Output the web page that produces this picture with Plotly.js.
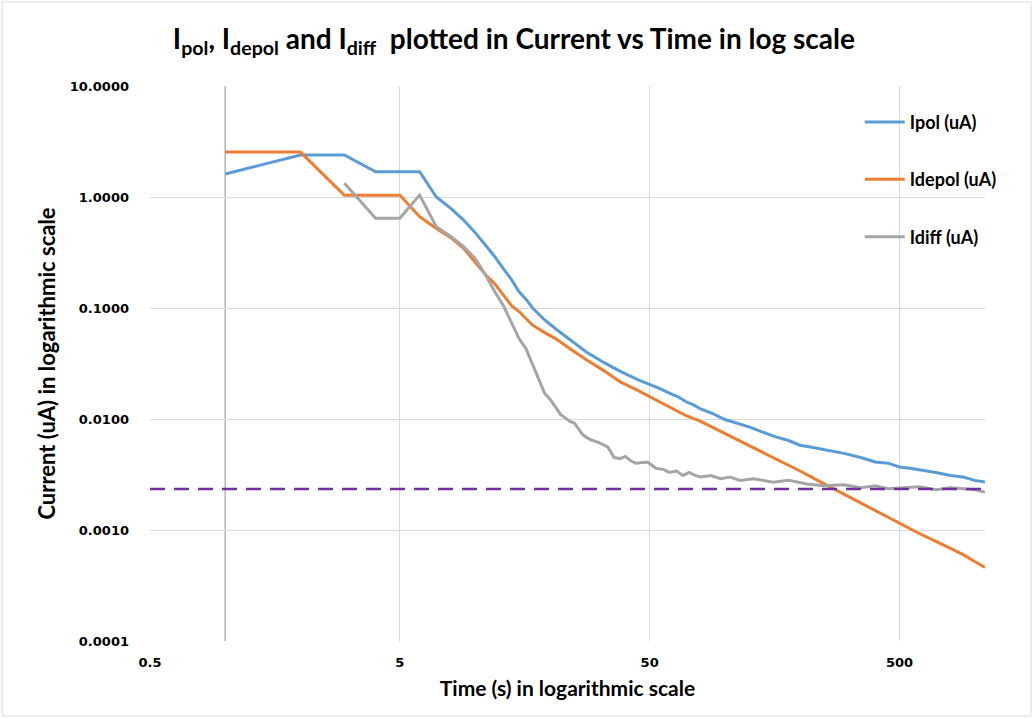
<!DOCTYPE html>
<html>
<head>
<meta charset="utf-8">
<script src="https://cdn.plot.ly/plotly-3.0.1.min.js"></script>
<style>
html,body{margin:0;padding:0;background:#fff;}
#chart{width:1034px;height:719px;}
</style>
</head>
<body>
<div id="chart"></div>
<script>
// ---- data ----
const timePol = [1,2,3,4,5,6,7,8,9,10,11,12,13,14,15,16,17,19,21,24,28,33,38,45,50,55,60,65,70,75,80,90,100,110,125,140,160,180,200,220,250,275,300,350,400,450,500,550,600,700,800,900,1000,1100];
const ipol    = [1.61,2.39,2.39,1.69,1.69,1.69,1.0,0.79,0.62,0.48,0.37,0.29,0.225,0.18,0.14,0.12,0.1,0.078,0.065,0.052,0.04,0.032,0.027,0.0225,0.0205,0.0188,0.0171,0.0158,0.0143,0.0134,0.0123,0.0111,0.0099,0.0093,0.0085,0.0077,0.0069,0.0064,0.0058,0.0056,0.0053,0.0051,0.0049,0.0045,0.0041,0.0040,0.0037,0.0036,0.0035,0.0033,0.0031,0.0030,0.0028,0.0027];

const timeDepol = [1,2,3,4,5,6,7,8,9,10,11,12,13,14,15,16,17,19,21,24,28,33,38,45,50,60,70,80,100,120,140,170,200,250,300,400,500,600,700,800,900,1000,1100];
const idepol    = [2.54,2.54,1.035,1.035,1.035,0.665,0.52,0.43,0.345,0.26,0.2,0.165,0.13,0.105,0.093,0.08,0.07,0.06,0.053,0.043,0.034,0.027,0.0217,0.018,0.0159,0.0128,0.0107,0.0095,0.0074,0.006,0.0051,0.0041,0.0034,0.0026,0.0021,0.00152,0.00115,0.00093,0.00079,0.00068,0.0006,0.00052,0.00046];

const timeDiff = [3,4,5,6,7,8,9,10,11,12,13,14,15,16,17,18,19,20,22,24,25,27,29,31,34,36,38,40,42,44,49,53,57,60,64,68,72,76,80,88,96,105,115,130,156,180,213,250,300,350,400,450,500,600,700,800,900,1000,1100];
const idiff    = [1.33,0.643,0.643,1.04,0.54,0.44,0.357,0.28,0.2,0.14,0.105,0.075,0.053,0.043,0.031,0.0225,0.017,0.015,0.011,0.0095,0.0092,0.0072,0.0065,0.0062,0.0056,0.0045,0.0044,0.0046,0.0042,0.004,0.0041,0.0036,0.0035,0.0033,0.0034,0.0031,0.0033,0.0031,0.003,0.0031,0.0029,0.003,0.0028,0.0029,0.0027,0.0028,0.0026,0.0025,0.00255,0.0024,0.0025,0.00235,0.0024,0.00245,0.0023,0.0024,0.00235,0.0023,0.0022];

const baselineTime = [0.5, 1100];
const baselineCurrent = [0.00234, 0.00234];

const seriesNames = ['Ipol (uA)','Idepol (uA)','Idiff (uA)'];
const xTickVals = [0.5, 5, 50, 500];
const xTickText = ['0.5','5','50','500'];
const yTickVals = [0.0001, 0.001, 0.01, 0.1, 1, 10];
const yTickText = ['0.0001','0.0010','0.0100','0.1000','1.0000','10.0000'];

const FONT = 'Lato, "Open Sans", sans-serif';
const TICKFONT = '"DejaVu Sans", sans-serif';

const traces = [
  {x: timePol, y: ipol, name: seriesNames[0], type: 'scatter', mode: 'lines', legendgroup: 'a',
   line: {color: '#5B9BD5', width: 3}},
  {x: timeDepol, y: idepol, name: seriesNames[1], type: 'scatter', mode: 'lines', legendgroup: 'b',
   line: {color: '#ED7D31', width: 3}},
  {x: timeDiff, y: idiff, name: seriesNames[2], type: 'scatter', mode: 'lines', legendgroup: 'c',
   line: {color: '#A5A5A5', width: 3}},
  {x: baselineTime, y: baselineCurrent, name: 'baseline', type: 'scatter', mode: 'lines', showlegend: false,
   line: {color: '#7030A0', width: 2.5, dash: '15px,9px'}}
];

const layout = {
  width: 1034, height: 719,
  margin: {l: 150, r: 49, t: 86, b: 78},
  paper_bgcolor: '#ffffff', plot_bgcolor: '#ffffff',
  title: {
    text: 'I<sub>pol</sub>, I<sub>depol</sub> and I<sub>diff</sub>  plotted in Current vs Time in log scale',
    font: {family: FONT, size: 28, color: '#000', weight: 'bold'},
    x: 0.497, xref: 'container', xanchor: 'center',
    y: 0.945, yref: 'container', yanchor: 'middle'
  },
  xaxis: {
    type: 'log', range: [Math.log10(0.5), Math.log10(1100)],
    tickvals: xTickVals, ticktext: xTickText, ticks: '',
    tickfont: {family: TICKFONT, size: 13, color: '#000', weight: 'bold'},
    ticklabelstandoff: 12,
    showgrid: true, gridcolor: '#d9d9d9', gridwidth: 1,
    zeroline: false, showline: false,
    title: {text: 'Time (s) in logarithmic scale', font: {family: FONT, size: 21, color: '#000', weight: 'bold'}, standoff: 12}
  },
  yaxis: {
    type: 'log', range: [-4, 1],
    tickvals: yTickVals, ticktext: yTickText, ticks: '',
    tickfont: {family: TICKFONT, size: 13, color: '#000', weight: 'bold'},
    ticklabelstandoff: 20,
    showgrid: true, gridcolor: '#d9d9d9', gridwidth: 1,
    zeroline: false, showline: false,
    title: {text: 'Current (uA) in logarithmic scale', font: {family: FONT, size: 22, color: '#000', weight: 'bold'}, standoff: 8}
  },
  legend: {
    x: 0.85, y: 0.968, xanchor: 'left', yanchor: 'top',
    bgcolor: 'rgba(0,0,0,0)', borderwidth: 0,
    font: {family: FONT, size: 18, color: '#000', weight: 'bold'},
    tracegroupgap: 31, itemwidth: 40
  },
  shapes: [
    {type: 'line', xref: 'x', yref: 'paper', x0: 1, x1: 1, y0: 0, y1: 1,
     line: {color: '#b4b4b4', width: 1.5}, layer: 'below'},
    {type: 'rect', xref: 'paper', yref: 'paper',
     x0: (2-150)/835, x1: (1031-150)/835, y0: (641-716)/555, y1: (641-2)/555,
     line: {color: '#d9d9d9', width: 1}, fillcolor: 'rgba(0,0,0,0)', layer: 'below'}
  ],
  showlegend: true
};

Plotly.newPlot('chart', traces, layout, {displayModeBar: false, responsive: false});
</script>
</body>
</html>
